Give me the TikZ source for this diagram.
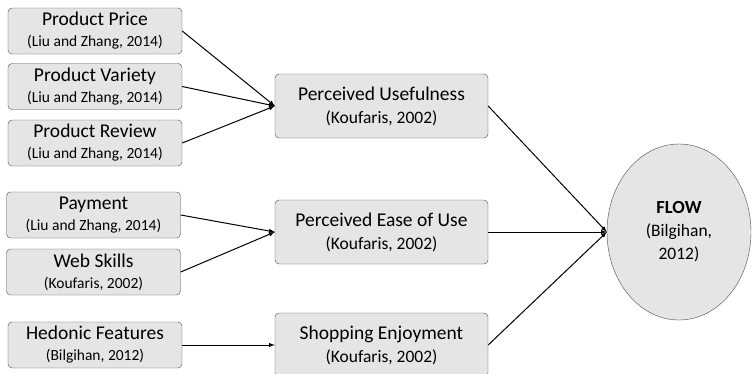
\documentclass[tikz,border=0pt]{standalone}
\usepackage{fontspec}
\setmainfont{Carlito}
\usetikzlibrary{shapes.geometric}
\newcommand{\hd}{\fontsize{19.5}{21}\selectfont}
\newcommand{\ct}{\fontsize{15.5}{21}\selectfont}
\newcommand{\cm}{\fontsize{17.5}{23}\selectfont}
\tikzset{
  factor/.style={draw=black!70,fill=black!10,rounded corners=4pt,minimum width=174pt,minimum height=46pt,inner sep=0pt,align=center,font=\hd},
  construct/.style={factor,minimum width=213pt,minimum height=64pt,font=\fontsize{19.5}{23}\selectfont},
  link/.style={->,>=latex,line width=1pt}
}
\begin{document}
\begin{tikzpicture}[x=1pt,y=-1pt]
    \useasboundingbox (0,0) rectangle (752,373);
    % antecedents
    \node[factor] (price) at (95,31) {Product Price\\ \ct (Liu and Zhang, 2014)};
    \node[factor] (variety) at (95,86.5) {Product Variety\\ \ct (Liu and Zhang, 2014)};
    \node[factor] (review) at (95,143) {Product Review\\ \ct (Liu and Zhang, 2014)};
    \node[factor] (payment) at (93.5,215) {Payment\\ \ct (Liu and Zhang, 2014)};
    \node[factor] (skills) at (93.5,272) {Web Skills\\ \ct (Koufaris, 2002)};
    \node[factor] (hedonic) at (95,345) {Hedonic Features\\ \ct (Bilgihan, 2012)};
    % mediators
    \node[construct] (useful) at (381.5,106) {Perceived Usefulness\\ \cm (Koufaris, 2002)};
    \node[construct] (ease) at (381.5,232) {Perceived Ease of Use\\ \cm (Koufaris, 2002)};
    \node[construct] (enjoy) at (381.5,345) {Shopping Enjoyment\\ \cm (Koufaris, 2002)};
    % outcome
    \node[ellipse,draw=black!70,fill=black!10,minimum width=144pt,minimum height=176pt,inner sep=0pt,align=center,font=\fontsize{18.5}{23}\selectfont] (flow) at (679,232)
      {\bfseries FLOW\\ \cm (Bilgihan,\\ \cm 2012)};
    \foreach \a in {price,variety,review} { \draw[link] (\a.east) -- (useful.west); }
    \foreach \a in {payment,skills} { \draw[link] (\a.east) -- (ease.west); }
    \draw[link] (hedonic.east) -- (enjoy.west);
    \foreach \a in {useful,ease,enjoy} { \draw[link] (\a.east) -- (flow.west); }
\end{tikzpicture}
\end{document}
